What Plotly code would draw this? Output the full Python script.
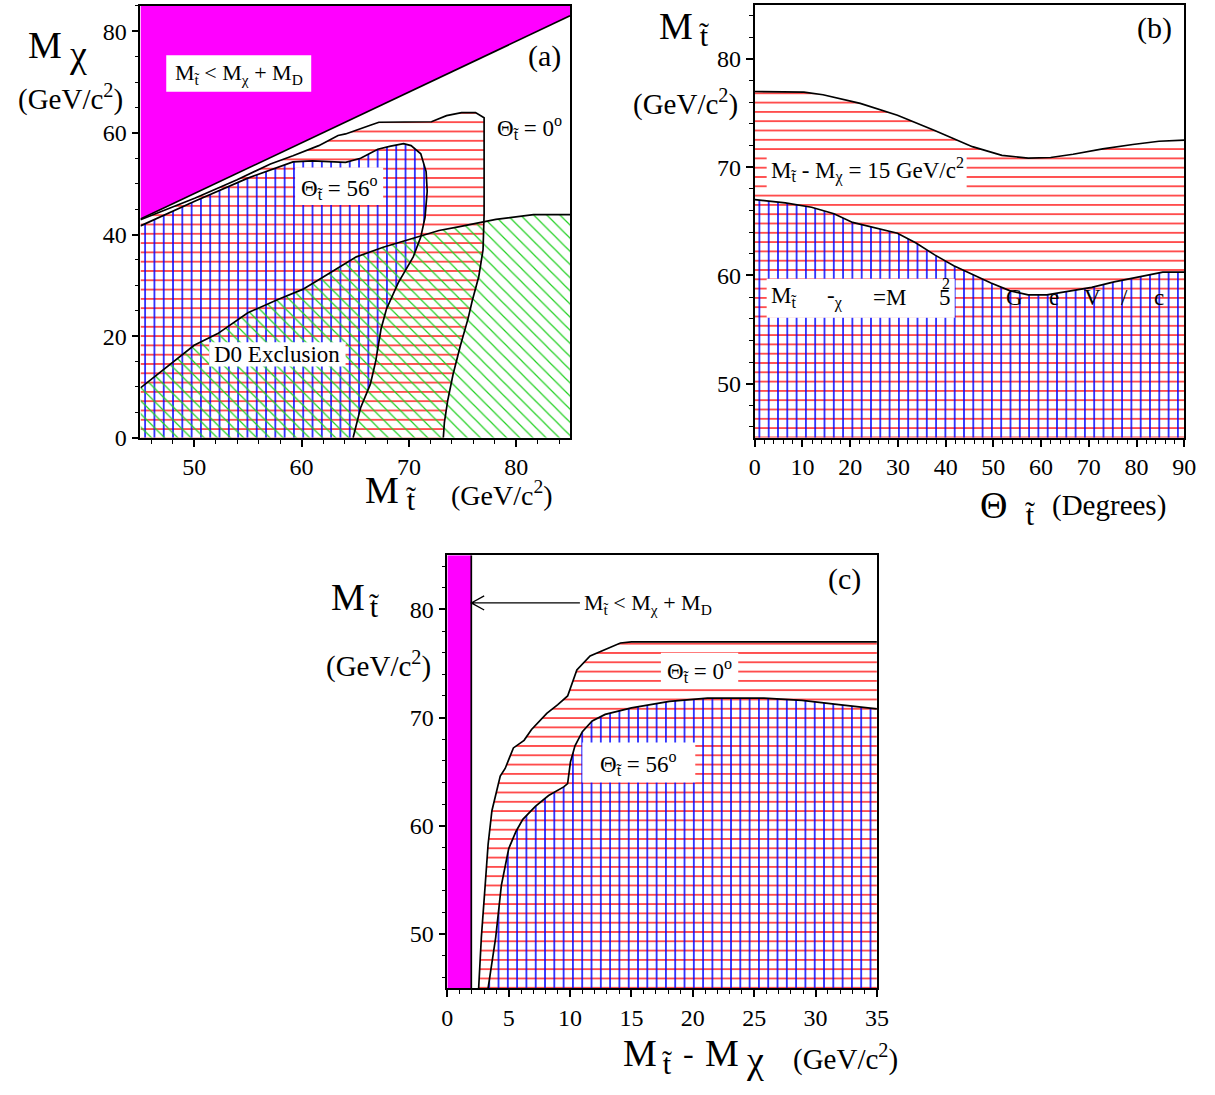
import plotly.graph_objects as go

W, H = 1215, 1095
FONT = "Liberation Serif"
TT = "t\u0303"  # t with tilde

# ---------------- data: panel (a) ----------------
a_kin_mstop = [45, 85]
a_kin_mchi = [43.05, 83.05]

a_th0_mstop = [45, 50.1, 54.0, 57.1, 59.2, 61.6, 63.4, 64.1, 66.4, 67.2, 72.1, 73.5, 74.9, 76.2, 77.0,
               77.0, 77.0, 76.9, 76.5, 75.9, 75.5, 74.8, 74.1, 73.6, 73.3, 73.2]
a_th0_mchi = [42.9, 47.2, 50.8, 53.9, 55.5, 57.5, 59.5, 59.8, 61.5, 62.1, 62.2, 63.4, 64.0, 64.0, 63.0,
              50.0, 44.0, 37.0, 31.7, 27.0, 23.4, 18.2, 12.4, 7.2, 3.0, 0.0]

a_th56_mstop = [45, 50.1, 55.0, 59.2, 61.0, 62.7, 64.1, 65.5, 67.1, 68.3, 69.5, 70.2, 71.1, 71.6, 71.7,
                71.5, 71.1, 70.4, 69.0, 67.9, 67.4, 66.9, 66.4, 65.5, 64.8]
a_th56_mchi = [41.7, 46.6, 51.1, 54.3, 54.5, 54.3, 54.2, 55.0, 56.8, 57.4, 57.9, 57.5, 55.9, 52.4, 48.5,
               43.4, 39.5, 35.6, 30.5, 25.3, 21.4, 15.0, 10.5, 5.9, 0.0]

a_d0_mstop = [45, 47.3, 50.0, 52.2, 55.0, 57.8, 60.1, 61.6, 64.4, 65.1, 67.6, 70.4, 72.8, 74.6, 78.1, 81.6, 85]
a_d0_mchi = [9.8, 13.7, 18.2, 20.5, 24.6, 27.2, 29.2, 31.1, 34.6, 35.6, 37.5, 39.2, 40.8, 41.5, 43.0, 43.9, 43.9]

# ---------------- data: panel (b) ----------------
b_theta_15 = [0, 10.3, 14.3, 22.1, 29.9, 37.7, 45.6, 51.8, 57.3, 62.0, 66.7, 72.9, 79.2, 84.7, 90]
b_mstop_15 = [77.0, 76.95, 76.7, 75.9, 74.8, 73.4, 71.9, 71.1, 70.85, 70.9, 71.2, 71.7, 72.1, 72.4, 72.5]

b_theta_5 = [0, 6.4, 11.9, 16.6, 20.5, 25.2, 29.9, 33.8, 37.7, 41.7, 45.6, 49.5, 53.4, 57.3, 61.2,
             65.2, 70.6, 75.3, 80.8, 85.5, 90]
b_mstop_5 = [67.0, 66.7, 66.3, 65.7, 64.9, 64.4, 63.9, 63.0, 61.9, 60.9, 60.1, 59.3, 58.6, 58.2, 58.2,
             58.5, 58.9, 59.4, 59.9, 60.3, 60.3]

# ---------------- data: panel (c) ----------------
c_md = 1.95
c_th0_dm = [2.55, 2.77, 3.08, 3.32, 3.63, 4.0, 4.31, 4.71, 5.38, 6.25, 6.86, 8.1, 9.0, 9.8, 10.15, 10.55,
            11.63, 13.2, 14.1, 15.0, 35]
c_th0_mstop = [45, 49.7, 54.5, 58.3, 61.4, 63.0, 64.6, 65.3, 67.2, 67.9, 68.9, 70.4, 71.2, 72.0, 73.1, 74.4,
               75.7, 76.5, 76.9, 77.0, 77.0]

c_th56_dm = [3.32, 3.94, 4.4, 5.0, 5.6, 6.15, 7.17, 8.25, 9.48, 9.8, 10.03, 10.4, 11.0, 11.8, 12.86, 15.0,
             18.1, 21.2, 25.8, 28.9, 31.9, 35]
c_th56_mstop = [45, 49.7, 54.5, 57.9, 59.5, 60.6, 61.8, 62.8, 63.6, 63.9, 65.9, 67.4, 68.7, 69.7, 70.3, 70.9,
                71.5, 71.8, 71.8, 71.6, 71.2, 70.8]

# axis ranges
a_xr, a_yr = [45, 85], [0, 85]
b_xr, b_yr = [0, 90], [45, 85]
c_xr, c_yr = [0, 35], [45, 85]

RED, BLUE, GREEN, MAG = "#ff0000", "#0000ff", "#22d022", "#ff00ff"


def hatch(shape, color, size=9.3, sol=0.14):
    return dict(shape=shape, fgcolor=color, bgcolor="rgba(0,0,0,0)", size=size,
                solidity=sol, fillmode="replace")


fig = go.Figure()


def region(x, y, xa, ya, pattern=None, color=None):
    kw = dict(x=x, y=y, xaxis=xa, yaxis=ya, mode="lines", fill="toself",
              line=dict(width=0, color="rgba(0,0,0,0)"), hoverinfo="skip", showlegend=False)
    if pattern is not None:
        kw["fillcolor"] = "rgba(0,0,0,0)"
        kw["fillpattern"] = pattern
    else:
        kw["fillcolor"] = color
    fig.add_trace(go.Scatter(**kw))


def edge(x, y, xa, ya, w=1.7):
    fig.add_trace(go.Scatter(x=x, y=y, xaxis=xa, yaxis=ya, mode="lines",
                             line=dict(color="black", width=w), hoverinfo="skip", showlegend=False))


# ----- panel (a) -----
region(a_kin_mstop + [a_xr[1], a_xr[0]], a_kin_mchi + [a_yr[1], a_yr[1]], "x", "y", color=MAG)
region(a_th0_mstop + [a_xr[0]], a_th0_mchi + [a_yr[0]], "x", "y", pattern=hatch("-", RED))
region(a_th56_mstop + [a_xr[0]], a_th56_mchi + [a_yr[0]], "x", "y", pattern=hatch("|", BLUE, sol=0.16))
region(a_d0_mstop + [a_xr[1], a_xr[0]], a_d0_mchi + [a_yr[0], a_yr[0]], "x", "y",
       pattern=hatch("\\", GREEN, size=9.3, sol=0.13))
edge(a_kin_mstop, a_kin_mchi, "x", "y")
edge(a_th0_mstop, a_th0_mchi, "x", "y")
edge(a_th56_mstop, a_th56_mchi, "x", "y")
edge(a_d0_mstop, a_d0_mchi, "x", "y")

# ----- panel (b) -----
region(b_theta_15 + [b_xr[1], b_xr[0]], b_mstop_15 + [b_yr[0], b_yr[0]], "x2", "y2", pattern=hatch("-", RED))
region(b_theta_5 + [b_xr[1], b_xr[0]], b_mstop_5 + [b_yr[0], b_yr[0]], "x2", "y2",
       pattern=hatch("|", BLUE, sol=0.16))
edge(b_theta_15, b_mstop_15, "x2", "y2")
edge(b_theta_5, b_mstop_5, "x2", "y2")

# ----- panel (c) -----
region([c_xr[0], c_md, c_md, c_xr[0]], [c_yr[0], c_yr[0], c_yr[1], c_yr[1]], "x3", "y3", color=MAG)
region(c_th0_dm + [c_xr[1]], c_th0_mstop + [c_yr[0]], "x3", "y3", pattern=hatch("-", RED))
region(c_th56_dm + [c_xr[1]], c_th56_mstop + [c_yr[0]], "x3", "y3", pattern=hatch("|", BLUE, sol=0.16))
edge([c_md, c_md], c_yr, "x3", "y3")
edge(c_th0_dm, c_th0_mstop, "x3", "y3")
edge(c_th56_dm, c_th56_mstop, "x3", "y3")


def axis(domain, rng, tick0, dtick, mtick0, mdtick, anchor):
    return dict(domain=domain, range=rng, anchor=anchor, tickmode="linear", tick0=tick0, dtick=dtick,
                ticks="outside", ticklen=7, tickwidth=1.5, tickcolor="black",
                showline=True, linecolor="black", linewidth=1.7, mirror=True,
                showgrid=False, zeroline=False, fixedrange=True,
                tickfont=dict(family=FONT, size=24, color="black"),
                minor=dict(tickmode="linear", tick0=mtick0, dtick=mdtick, ticks="outside", ticklen=4,
                           tickwidth=1, tickcolor="black", showgrid=False))


def px_x(p):
    return p / W


def px_y(p):
    return 1 - p / H


layout = dict(
    width=W, height=H, margin=dict(l=0, r=0, t=0, b=0),
    paper_bgcolor="white", plot_bgcolor="white", showlegend=False,
    xaxis=axis([px_x(136.5), px_x(572.5)], a_xr, 50, 10, 44, 2, "y"),
    yaxis=axis([px_y(443), px_y(6)], a_yr, 0, 20, 0, 5, "x"),
    xaxis2=axis([px_x(760), px_x(1196)], b_xr, 0, 10, 0, 2, "y2"),
    yaxis2=axis([px_y(443), px_y(5)], b_yr, 0, 10, 0, 2, "x2"),
    xaxis3=axis([px_x(448), px_x(884)], c_xr, 0, 5, 0, 1, "y3"),
    yaxis3=axis([px_y(1000), px_y(562)], c_yr, 0, 10, 0, 2, "x3"),
)
fig.update_layout(**layout)

# ---- white label boxes ----
boxes = [
    ("x", "y", 47.4, 68.1, 60.9, 75.3),
    ("x", "y", 59.4, 45.8, 67.6, 53.2),
    ("x", "y", 51.4, 14.0, 64.1, 18.8),
    ("x2", "y2", 2.5, 68.0, 44.4, 71.4),
    ("x2", "y2", 2.5, 56.1, 41.9, 59.7),
    ("x3", "y3", 17.4, 73.0, 23.7, 76.0),
    ("x3", "y3", 11.0, 64.0, 20.2, 67.7),
]
for xr, yr, x0, y0, x1, y1 in boxes:
    fig.add_shape(type="rect", xref=xr, yref=yr, x0=x0, y0=y0, x1=x1, y1=y1,
                  fillcolor="white", line=dict(width=0), layer="above")

# arrow in (c)
fig.add_shape(type="path", xref="x3", yref="y3", layer="above",
              path="M 10.8,80.6 L 1.95,80.6 M 3.0,81.25 L 1.95,80.6 L 3.0,79.95",
              line=dict(color="black", width=1.3))


def dtext(txt, x, y, xr, yr, size=21, xanchor="center", yanchor="middle"):
    fig.add_annotation(text=txt, x=x, y=y, xref=xr, yref=yr, showarrow=False,
                       xanchor=xanchor, yanchor=yanchor,
                       font=dict(family=FONT, size=size, color="black"))


def ptext(txt, px, py, size=27, xanchor="center"):
    fig.add_annotation(text=txt, x=px_x(px), y=px_y(py), xref="paper", yref="paper",
                       showarrow=False, xanchor=xanchor, yanchor="middle",
                       font=dict(family=FONT, size=size, color="black"))


KIN = "M<sub>%s</sub> &lt; M<sub>χ</sub> + M<sub>D</sub>" % TT
TH0 = "Θ<sub>%s</sub> = 0<sup>o</sup>" % TT
TH56 = "Θ<sub>%s</sub> = 56<sup>o</sup>" % TT

# panel (a) texts
dtext(KIN, 54.15, 71.6, "x", "y", size=22)
dtext("(a)", 82.6, 75.2, "x", "y", size=30)
dtext(TH0, 81.2, 61.0, "x", "y", size=23)
dtext(TH56, 63.5, 49.2, "x", "y", size=23)
dtext("D0 Exclusion", 57.75, 16.4, "x", "y", size=23)

# panel (b) texts
dtext("(b)", 83.8, 82.9, "x2", "y2", size=30)
dtext("M<sub>%s</sub> - M<sub>χ</sub> = 15 GeV/c<sup>2</sup>" % TT, 2.9, 69.7, "x2", "y2",
      size=23, xanchor="left")
garbled = [("M<sub>%s</sub>" % TT, 2.9, "left"), ("-<sub>χ</sub>", 14.7, "left"), ("=M", 24.4, "left"),
           ("5", 39.8, "center"), ("G", 54.5, "center"), ("e", 62.6, "center"), ("V", 70.8, "center"),
           ("/", 77.4, "center"), ("c", 84.6, "center")]
for t, xx, anc in garbled:
    dtext(t, xx, 58.0, "x2", "y2", size=23, xanchor=anc)
dtext("2", 40.0, 59.3, "x2", "y2", size=16)

# panel (c) texts
dtext("(c)", 32.4, 82.8, "x3", "y3", size=30)
dtext(KIN, 11.0, 80.5, "x3", "y3", size=22, xanchor="left")
dtext(TH0, 20.55, 74.4, "x3", "y3", size=23)
dtext(TH56, 15.6, 65.8, "x3", "y3", size=23)

# axis titles
GEV = "(GeV/c<sup>2</sup>)"
# (a)
ptext("M", 40, 46, 38)
ptext("χ", 73, 55, 38)
ptext(GEV, 65, 99, 29)
ptext("M", 382, 496, 38)
ptext(TT, 411, 506, 30)
ptext(GEV, 503, 499, 28)
# (b)
ptext("M", 680, 26, 38)
ptext(TT, 708, 36, 30)
ptext(GEV, 690, 104, 29)
ptext("Θ", 1002, 511, 38)
ptext(TT, 1039, 521, 30)
ptext("(Degrees)", 1120, 512, 29)
# (c)
ptext("M", 347, 604, 38)
ptext(TT, 374, 614, 30)
ptext(GEV, 378, 672, 29)
ptext("M", 644, 1066, 38)
ptext(TT, 671, 1076, 30)
ptext("-", 693, 1066, 32)
ptext("M", 727, 1066, 38)
ptext("χ", 760, 1073, 38)
ptext(GEV, 852, 1070, 29)

fig.write_html("out.html", config={"displayModeBar": False},
               post_script="document.body.style.margin='0';")
